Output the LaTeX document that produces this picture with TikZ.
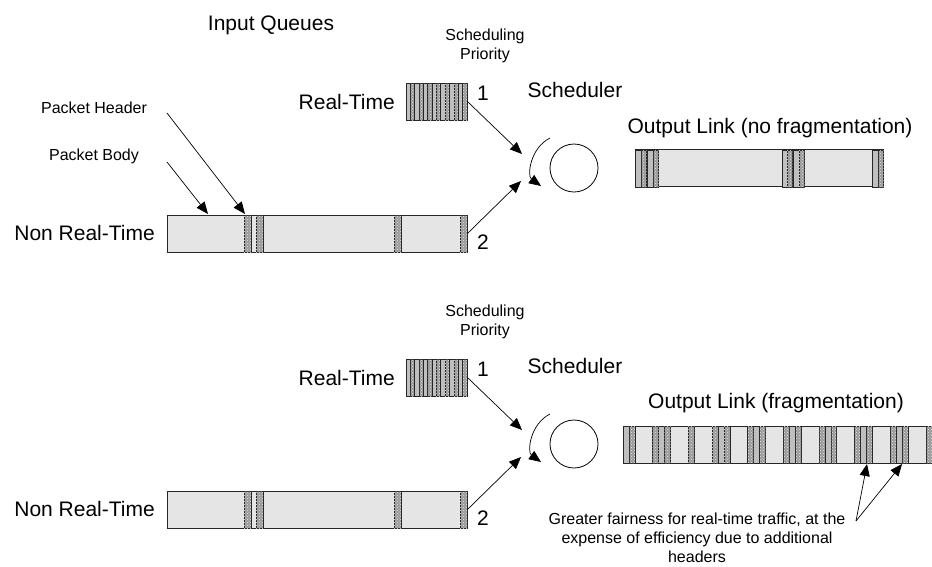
\documentclass[tikz,border=0pt]{standalone}
\usepackage{fontspec}
\setmainfont{Liberation Sans}
\usetikzlibrary{arrows.meta,patterns}

\tikzset{
  big/.style={font=\fontsize{21}{25}\selectfont, inner sep=0pt},
  small/.style={font=\fontsize{16}{19}\selectfont, inner sep=0pt, align=center},
  bar/.style={draw=black!85, fill=gray!20, line width=0.9pt, inner sep=0pt, minimum height=37pt},
  rtpkt/.style={draw=black!85, fill=gray!50, line width=0.7pt},
  hdr/.style={draw=black!85, fill=gray!80, line width=0.7pt,
    postaction={pattern=crosshatch dots, pattern color=white!80!gray}},
  feed/.style={-{Triangle[length=12pt,width=10pt]}, line width=0.7pt},
}

\begin{document}
\begin{tikzpicture}[x=1pt,y=-1pt]
	\useasboundingbox (0,0) rectangle (932,566);
	\node[big] (iq) at (271,25) {Input Queues};
	% both halves share queues and scheduler
	\foreach \s/\dy in {1/0,2/276}{
	\begin{scope}[shift={(0,\dy)}]
		\node[small] (prio\s) at (485,46) {Scheduling\\Priority};
		\node[big, anchor=east] (rtl\s) at (395,102) {Real-Time};
		\node[bar, minimum width=61pt] (rt\s) at (436.5,101.5) {};
		\foreach \i in {0,...,6}{
			\draw[rtpkt] ({406+8.71*\i},83) rectangle ++(4.36,37);
			\draw[hdr] ({410.36+8.71*\i},83) rectangle ++(4.36,37);
		}
		\node[big] (one\s) at (483,93) {1};
		\node[big] (schl\s) at (575,90) {Scheduler};
		\node[draw, circle, minimum size=48pt, line width=0.8pt] (sched\s) at (574,168) {};
		\coordinate (rs\s) at (550,138);
		\coordinate (re\s) at (541,186);
		\draw[feed] (rs\s) .. controls (530,148) and (527,176) .. (re\s);
		\coordinate (ina\s) at (522,154);
		\coordinate (inb\s) at (521,181);
		\node[big, anchor=east] (nrtl\s) at (155,233) {Non Real-Time};
		\node[bar, minimum width=300pt] (nrt\s) at (317,233.5) {};
		\foreach \x in {244,256,394,460}
			\draw[hdr] (\x,215) rectangle ++(7,37);
		\node[big] (two\s) at (483,242) {2};
		\draw[feed] (rt\s.east) -- (ina\s);
		\draw[feed] (nrt\s.east) -- (inb\s);
	\end{scope}
	}
	% packet labels
	\node[small] (phl) at (94,108) {Packet Header};
	\node[small] (pbl) at (94,156) {Packet Body};
	\coordinate (phs) at (167,113);
	\coordinate (pht) at (245,214);
	\coordinate (pbs) at (167,162);
	\coordinate (pbt) at (208,214);
	\draw[feed] (phs) -- (pht);
	\draw[feed] (pbs) -- (pbt);
	% output link, no fragmentation
	\node[big] (outl1) at (770,128) {Output Link (no fragmentation)};
	\node[bar, minimum width=248pt] (out1) at (759,168) {};
	\foreach \x in {635,647,782,793,872}
		\draw[rtpkt] (\x,150) rectangle ++(6,37);
	\foreach \x in {641,653,787,799,878}
		\draw[hdr] (\x,150) rectangle ++(5.5,37);
	% output link, fragmentation
	\node[big] (outl2) at (776,403) {Output Link (fragmentation)};
	\node[bar, minimum width=312pt] (out2) at (779,444.5) {};
	\foreach \c in {1,7,17,23,29,35,41,47}
		\draw[rtpkt] ({623+5.94*(\c-1)},426) rectangle ++(5.94,37);
	\foreach \c in {2,6,8,12,16,18,22,24,28,30,34,36,40,42,46,48,52}
		\draw[hdr] ({623+5.94*(\c-1)},426) rectangle ++(5.94,37);
	\node[small] (note) at (697,538) {Greater fairness for real-time traffic, at the\\expense of efficiency due to additional\\headers};
	\coordinate (nt) at (856,521);
	\coordinate (fa) at (867,464);
	\coordinate (fb) at (902,464);
	\draw[feed] (nt) -- (fa);
	\draw[feed] (nt) -- (fb);
\end{tikzpicture}
\end{document}
